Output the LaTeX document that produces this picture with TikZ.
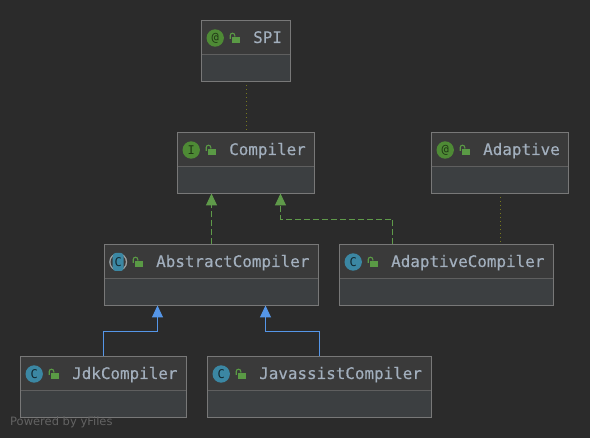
\documentclass[tikz,border=0pt]{standalone}
\usepackage{fontspec}
\setmainfont{DejaVu Sans}
\setmonofont{DejaVu Sans Mono}
\newfontfamily\titlefont[FakeBold=0.35]{DejaVu Sans Mono}
\usetikzlibrary{arrows.meta,calc}
\definecolor{bg}{HTML}{2B2B2B}
\definecolor{hdr}{HTML}{3A3A3A}
\definecolor{bodyc}{HTML}{3C3F41}
\definecolor{edgec}{HTML}{787878}
\definecolor{divc}{HTML}{5F5F5F}
\definecolor{titlec}{HTML}{A2AFBD}
\definecolor{annc}{HTML}{4E8A35}
\definecolor{classc}{HTML}{3B87A3}
\definecolor{lockc}{HTML}{5A9A45}
\definecolor{implc}{HTML}{5F9A4A}
\definecolor{extc}{HTML}{5596E8}
\definecolor{depc}{HTML}{77781F}
\definecolor{yfc}{HTML}{636363}
\tikzset{
  boxbase/.style={rectangle,fill=bodyc,inner sep=0pt,outer sep=0pt,minimum height=61pt,anchor=north west},
  titletext/.style={text=titlec,font=\titlefont\fontsize{15.9}{18}\selectfont,anchor=base west,inner sep=0pt},
  iconbase/.style={circle,inner sep=0pt,outer sep=0pt,minimum size=17.4pt,font=\ttfamily\fontsize{12}{13}\selectfont},
  annicon/.style={iconbase,fill=annc,text=annc!40!black},
  classicon/.style={iconbase,fill=classc,text=classc!28!black},
  implline/.style={draw=implc,line width=1pt,dash pattern=on 6pt off 3pt,-{Triangle[length=12pt,width=11pt,fill=implc]}},
  extline/.style={draw=extc,line width=1pt,-{Triangle[length=12pt,width=11pt,fill=extc]}},
  depline/.style={draw=depc,line width=1pt,dash pattern=on 1pt off 3pt,shorten >=3pt,shorten <=3.5pt},
  yfiles/.style={text=yfc,font=\fontsize{11.5}{13}\selectfont,anchor=mid west,inner sep=0pt}
}
% #1 name, #2 x, #3 y, #4 width, #5 icon style, #6 letter, #7 title
\newcommand{\umlbox}[7]{%
  \node[boxbase,minimum width=#4pt] (#1) at (#2,#3) {};
  \fill[hdr] (#1.north west) rectangle ($(#1.north east)+(0pt,-34pt)$);
  \draw[divc,line width=1pt] ($(#1.north west)+(0pt,-34pt)$) -- ($(#1.north east)+(0pt,-34pt)$);
  \draw[edgec,line width=1pt] (#1.north west) rectangle (#1.south east);
  \node[#5] (#1-icon) at ($(#1.north west)+(13.7pt,-17.5pt)$) {#6};
  \fill[lockc] ($(#1-icon.center)+(17pt,1.3pt)$) rectangle ($(#1-icon.center)+(24.3pt,-4.7pt)$);
  \draw[lockc,line width=1.1pt] ($(#1-icon.center)+(15pt,-1pt)$) -- ++(0pt,3.5pt) arc[start angle=180,end angle=0,radius=2.3pt] -- ++(0pt,-1.2pt);
  \node[titletext] (#1-title) at ($(#1.north west)+(51.5pt,-22.5pt)$) {#7};
}
\begin{document}
\begin{tikzpicture}[x=1pt,y=-1pt]
\useasboundingbox (0,0) rectangle (590,438);
\fill[bg] (0,0) rectangle (590,438);
\umlbox{spi}{201.5}{20.5}{89}{annicon}{@}{SPI}
\umlbox{compiler}{177.5}{132.5}{137}{annicon}{I}{Compiler}
\umlbox{adaptive}{431.5}{132.5}{137}{annicon}{@}{Adaptive}
\umlbox{abstract}{104.5}{244.5}{214}{classicon}{C}{AbstractCompiler}
\umlbox{adaptivecompiler}{339.5}{244.5}{214}{classicon}{C}{AdaptiveCompiler}
\umlbox{jdk}{20.5}{356.5}{166}{classicon}{C}{JdkCompiler}
\umlbox{javassist}{207.5}{356.5}{224}{classicon}{C}{JavassistCompiler}
% abstract icon overlay
\fill[gray!75] (abstract-icon.center) circle (9pt);
\fill[hdr] (abstract-icon.center) circle (7.6pt);
\node[rectangle,rounded corners=3pt,fill=classc,minimum width=11pt,minimum height=18pt,inner sep=0pt,text=classc!28!black,font=\ttfamily\fontsize{12}{13}\selectfont] (abstract-mark) at (abstract-icon.center) {C};
% connector ends
\coordinate (absTop) at (abstract.north);
\coordinate (cmpA) at (compiler.south -| absTop);
\coordinate (acTop) at ($(adaptivecompiler.north west)+(53pt,0pt)$);
\coordinate (cmpB) at ($(compiler.south west)+(103pt,0pt)$);
\coordinate (acBend) at ($(acTop)+(0pt,25pt)$);
\coordinate (absL) at ($(abstract.south west)+(53pt,0pt)$);
\coordinate (absR) at ($(abstract.south west)+(161pt,0pt)$);
\coordinate (jdkBend) at ($(jdk.north)+(0pt,25pt)$);
\coordinate (jvBend) at ($(javassist.north)+(0pt,25pt)$);
\coordinate (spiDep) at ($(spi.south)+(0.5pt,0pt)$);
\coordinate (cmpDep) at (spiDep |- compiler.north);
\coordinate (adDep) at ($(adaptive.south)+(0.5pt,0pt)$);
\coordinate (acDep) at (adDep |- adaptivecompiler.north);
\draw[depline] (spiDep) -- (cmpDep);
\draw[depline] (adDep) -- (acDep);
\draw[implline] (absTop) -- (cmpA);
\draw[implline] (acTop) -- (acBend) -- (acBend -| cmpB) -- (cmpB);
\draw[extline] (jdk.north) -- (jdkBend) -- (jdkBend -| absL) -- (absL);
\draw[extline] (javassist.north) -- (jvBend) -- (jvBend -| absR) -- (absR);
\node[yfiles] (powered) at (10,422.5) {Powered by yFiles};
\end{tikzpicture}
\end{document}
